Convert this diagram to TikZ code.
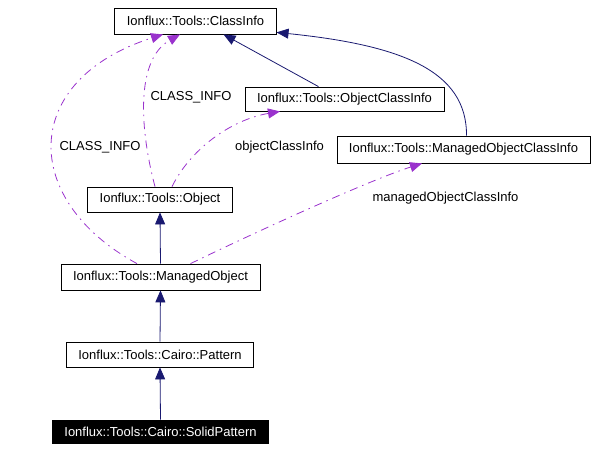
\documentclass[tikz,border=0pt]{standalone}
\usepackage{fontspec}
\setmainfont{Liberation Sans}
\usetikzlibrary{arrows.meta,calc}
\definecolor{edgeblue}{HTML}{191970}
\definecolor{edgepurple}{HTML}{9A32CD}
\tikzset{
	cls/.style={draw=black,line width=0.8pt,fill=white,inner xsep=12pt,inner ysep=0pt,minimum height=25pt,font=\fontsize{13}{15}\selectfont},
	clsfocus/.style={cls,fill=black,text=white},
	inherit/.style={draw=edgeblue,line width=0.8pt,-{Triangle[length=12pt,width=10pt]}},
	usage/.style={draw=edgepurple,line width=0.8pt,dash pattern=on 8pt off 5pt on 1.5pt off 5pt,-{Triangle[length=12pt,width=10pt,fill=edgepurple]}},
	lbl/.style={inner sep=0pt,font=\fontsize{13}{15}\selectfont}
}
\begin{document}
\begin{tikzpicture}[x=1pt,y=-1pt]
	\useasboundingbox (0,0) rectangle (597,451);
	\node[cls,minimum height=26pt] (ci) at (195.5,21) {Ionflux::Tools::ClassInfo};
	\node[cls,minimum height=24pt] (oci) at (344.5,99) {Ionflux::Tools::ObjectClassInfo};
	\node[cls,minimum height=27pt] (moci) at (463.5,149.5) {Ionflux::Tools::ManagedObjectClassInfo};
	\node[cls] (obj) at (160,199.5) {Ionflux::Tools::Object};
	\node[cls,minimum height=26pt] (mo) at (160.5,277) {Ionflux::Tools::ManagedObject};
	\node[cls] (pat) at (160,354.5) {Ionflux::Tools::Cairo::Pattern};
	\node[clsfocus,minimum height=23pt] (spat) at (160.5,431.5) {Ionflux::Tools::Cairo::SolidPattern};

	\draw[inherit] (spat.north) -- (pat.south);
	\draw[inherit] (pat.north) -- (mo.south);
	\draw[inherit] (mo.north) -- (obj.south);
	\draw[inherit] ($(oci.north)+(-26,0)$) -- ($(ci.south)+(28,0)$);
	\draw[inherit] ($(moci.north)+(3,0)$) .. controls (467,70) and (400,45) .. ($(ci.south east)+(0,-2)$);

	\draw[usage] ($(mo.north)+(-23.5,0)$) .. controls (20,200) and (20,80) .. ($(ci.south)+(-32.5,0)$);
	\draw[usage] ($(obj.north)+(-5,0)$) .. controls (140,130) and (135,60) .. ($(ci.south)+(-15.5,0)$);
	\draw[usage] ($(obj.north)+(12,0)$) .. controls (190,150) and (230,120) .. ($(oci.south)+(-64.5,0)$);
	\draw[usage] ($(mo.north)+(30,0)$) .. controls (260,230) and (370,180) .. ($(moci.south)+(-41.5,0)$);

	\node[lbl] (l1) at (191,97) {CLASS\_INFO};
	\node[lbl] (l2) at (100,147) {CLASS\_INFO};
	\node[lbl] (l3) at (279.5,147) {objectClassInfo};
	\node[lbl] (l4) at (445.5,198) {managedObjectClassInfo};
\end{tikzpicture}
\end{document}
